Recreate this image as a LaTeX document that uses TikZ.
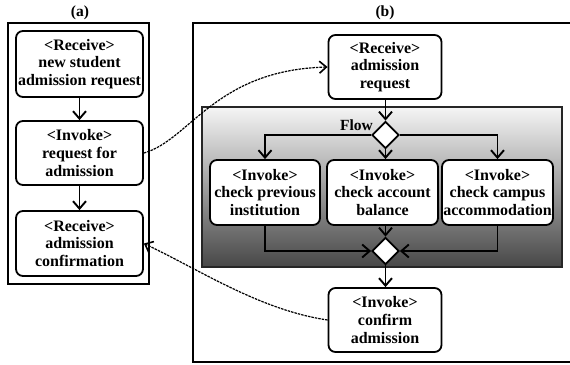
\documentclass[tikz,border=0pt]{standalone}
\usepackage{fontspec}
\setmainfont{Liberation Serif}
\usetikzlibrary{arrows.meta,shapes.geometric}
\begin{document}
\begin{tikzpicture}[x=1pt,y=1pt,
  act/.style={draw, line width=1.8pt, rounded corners=7pt, fill=white, align=center,
    font=\fontsize{16}{17.8}\selectfont\bfseries, inner sep=0pt},
  dec/.style={draw, line width=1.8pt, diamond, fill=white, minimum width=27pt, minimum height=27pt, inner sep=0pt},
  flowarr/.style={line width=1.8pt, -{Straight Barb[length=7.5pt,width=13pt,line width=1.9pt]}},
  msgarr/.style={line width=1.2pt, dash pattern=on 2.5pt off 1pt, -{Straight Barb[length=7pt,width=12pt,line width=1.6pt]}},
  lbl/.style={font=\fontsize{15.5}{17}\selectfont\bfseries, inner sep=0pt}]
\useasboundingbox (0,0) rectangle (570,-364);
% frames
\draw[line width=2.2pt] (8,-23) rectangle (149,-284);
\draw[line width=1.8pt] (571,-23) -- (193,-23) -- (193,-362) -- (571,-362);
\node[lbl] (la) at (80,-13) {(a)};
\node[lbl] (lb) at (385,-13) {(b)};
% flow region
\draw[line width=1.8pt, draw=black!85, top color=black!4, bottom color=black!72] (202,-107) rectangle (562,-267);
% left process
\node[act, minimum width=127pt, minimum height=66pt] (a1) at (79.5,-64) {<Receive>\\new student\\admission request};
\node[act, minimum width=127pt, minimum height=64pt] (a2) at (79.5,-153) {<Invoke>\\request for\\admission};
\node[act, minimum width=127pt, minimum height=65pt] (a3) at (79.5,-243.5) {<Receive>\\admission\\confirmation};
\draw[flowarr] (a1) -- (a2);
\draw[flowarr] (a2) -- (a3);
% right process
\node[act, minimum width=113pt, minimum height=64pt] (b1) at (385,-67) {<Receive>\\admission\\request};
\node[dec] (d1) at (385.5,-135) {};
\node[lbl, anchor=east] (fl) at (373,-125) {Flow};
\node[act, minimum width=110pt, minimum height=65pt] (c1) at (265,-192.5) {<Invoke>\\check previous\\institution};
\node[act, minimum width=111pt, minimum height=65pt] (c2) at (382.5,-192.5) {<Invoke>\\check account\\balance};
\node[act, minimum width=111pt, minimum height=65pt] (c3) at (497.5,-192.5) {<Invoke>\\check campus\\accommodation};
\node[dec] (d2) at (385.5,-251) {};
\node[act, minimum width=113pt, minimum height=64pt] (b2) at (385,-320) {<Invoke>\\confirm\\admission};
\draw[flowarr] (d1.north |- b1.south) -- (d1.north);
\draw[flowarr] (d1.west) -| (c1.north);
\draw[flowarr] (d1.east) -| (c3.north);
\draw[flowarr] (d1.south) -- (d1.south |- c2.north);
\draw[flowarr] (c1.south) |- (d2.west);
\draw[flowarr] (c3.south) |- (d2.east);
\draw[flowarr] (d2.north |- c2.south) -- (d2.north);
\draw[flowarr] (d2.south) -- (d2.south |- b2.north);
% messages
\draw[msgarr] (a2.east) .. controls (190,-140) and (215,-70) .. (b1.west);
\draw[msgarr] (b2.west) .. controls (260,-310) and (200,-270) .. (a3.east);
\end{tikzpicture}
\end{document}
